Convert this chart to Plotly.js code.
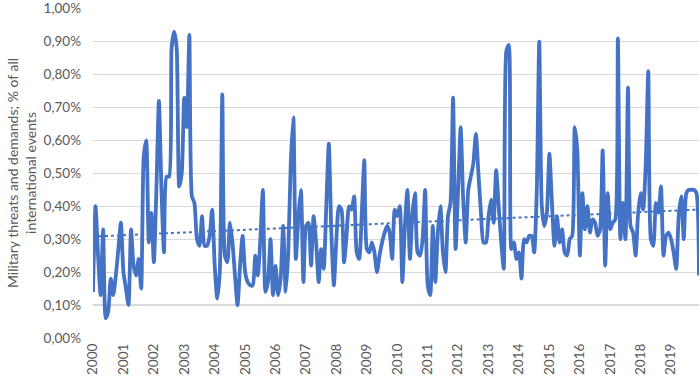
<!DOCTYPE html>
<html>
<head>
<meta charset="utf-8">
<script src="https://cdn.plot.ly/plotly-3.0.1.min.js"></script>
<style>html,body{margin:0;padding:0;background:#fff;}#chart{width:700px;height:377px;}</style>
</head>
<body>
<div id="chart"></div>
<script>
// Monthly share (%) of military threats and demands in all international events, Jan 2000 - Dec 2019
const years = ["2000","2001","2002","2003","2004","2005","2006","2007","2008","2009","2010","2011","2012","2013","2014","2015","2016","2017","2018","2019"];

const v2000 = [0.14,0.40,0.25,0.13,0.33,0.06,0.08,0.18,0.13,0.19,0.27,0.35];
const v2001 = [0.20,0.15,0.10,0.33,0.22,0.19,0.24,0.15,0.55,0.60,0.29,0.38];
const v2002 = [0.23,0.45,0.72,0.45,0.26,0.49,0.49,0.88,0.93,0.88,0.46,0.50];
const v2003 = [0.73,0.64,0.92,0.43,0.41,0.30,0.28,0.37,0.28,0.28,0.31,0.39];
const v2004 = [0.22,0.12,0.20,0.74,0.25,0.23,0.35,0.29,0.19,0.10,0.22,0.31];
const v2005 = [0.20,0.17,0.16,0.16,0.25,0.19,0.30,0.45,0.14,0.17,0.30,0.13];
const v2006 = [0.22,0.13,0.18,0.34,0.14,0.26,0.53,0.67,0.24,0.37,0.45,0.17];
const v2007 = [0.34,0.35,0.22,0.37,0.29,0.17,0.27,0.21,0.40,0.59,0.32,0.16];
const v2008 = [0.30,0.40,0.39,0.23,0.31,0.40,0.39,0.43,0.26,0.24,0.38,0.54];
const v2009 = [0.27,0.26,0.29,0.26,0.20,0.25,0.29,0.32,0.34,0.32,0.24,0.39];
const v2010 = [0.37,0.40,0.17,0.34,0.45,0.24,0.38,0.44,0.26,0.25,0.30,0.45];
const v2011 = [0.16,0.13,0.34,0.17,0.32,0.40,0.26,0.20,0.37,0.41,0.73,0.27];
const v2012 = [0.45,0.64,0.42,0.29,0.45,0.49,0.53,0.62,0.50,0.38,0.29,0.29];
const v2013 = [0.37,0.42,0.35,0.51,0.40,0.29,0.21,0.87,0.89,0.27,0.29,0.24];
const v2014 = [0.26,0.18,0.30,0.29,0.31,0.31,0.26,0.44,0.90,0.40,0.34,0.38];
const v2015 = [0.56,0.41,0.28,0.37,0.29,0.33,0.26,0.25,0.30,0.31,0.64,0.57];
const v2016 = [0.25,0.44,0.33,0.40,0.32,0.36,0.35,0.31,0.33,0.57,0.22,0.44];
const v2017 = [0.33,0.35,0.36,0.91,0.30,0.41,0.30,0.76,0.34,0.32,0.25,0.38];
const v2018 = [0.44,0.39,0.53,0.81,0.30,0.28,0.41,0.38,0.46,0.25,0.31,0.32];
const v2019 = [0.30,0.26,0.21,0.37,0.43,0.30,0.44,0.45,0.45,0.45,0.44,0.19];

// Dotted trend line end points (%)
const trendValues = [0.308, 0.390];

const monthly = [].concat(v2000,v2001,v2002,v2003,v2004,v2005,v2006,v2007,v2008,v2009,
  v2010,v2011,v2012,v2013,v2014,v2015,v2016,v2017,v2018,v2019);
const xIdx = monthly.map((_, i) => i);
const yFrac = monthly.map(v => v / 100);
const tickPos = years.map((_, k) => k * 12);
const trendX = [0, monthly.length - 1];
const trendY = trendValues.map(v => v / 100);

const font = "Lato, 'Open Sans', 'DejaVu Sans', sans-serif";
const grey = "#595959";

const traces = [
  {x: trendX, y: trendY, type: "scatter", mode: "lines",
   line: {color: "#4472C4", width: 2, dash: "dot"}, hoverinfo: "skip", showlegend: false},
  {x: xIdx, y: yFrac, type: "scatter", mode: "lines",
   line: {color: "#4472C4", width: 3.8, shape: "spline", smoothing: 0.6}, showlegend: false}
];

const layout = {
  width: 700, height: 377,
  margin: {l: 93, r: 1, t: 8, b: 39, pad: 0},
  paper_bgcolor: "#ffffff", plot_bgcolor: "#ffffff",
  separators: ", ",
  font: {family: font, color: grey, size: 13},
  showlegend: false,
  xaxis: {
    range: [0, monthly.length - 1],
    tickmode: "array", tickvals: tickPos, ticktext: years,
    tickangle: -90, tickfont: {size: 13.5, color: grey, family: font},
    showgrid: false, zeroline: false, showline: false, ticks: "",
    ticklabelstandoff: 2, fixedrange: true
  },
  yaxis: {
    range: [0, 0.01002], dtick: 0.001, tick0: 0, tickformat: ".2%",
    gridcolor: "#d9d9d9", gridwidth: 1.2, zeroline: false, showline: false, ticks: "",
    tickfont: {size: 13.5, color: grey, family: font},
    ticklabelstandoff: 11,
    title: {text: "Military threats and demands; % of all<br>international events",
            font: {size: 14, color: grey, family: font}, standoff: 3},
    fixedrange: true
  }
};

Plotly.newPlot("chart", traces, layout, {displayModeBar: false, staticPlot: true});
</script>
</body>
</html>
